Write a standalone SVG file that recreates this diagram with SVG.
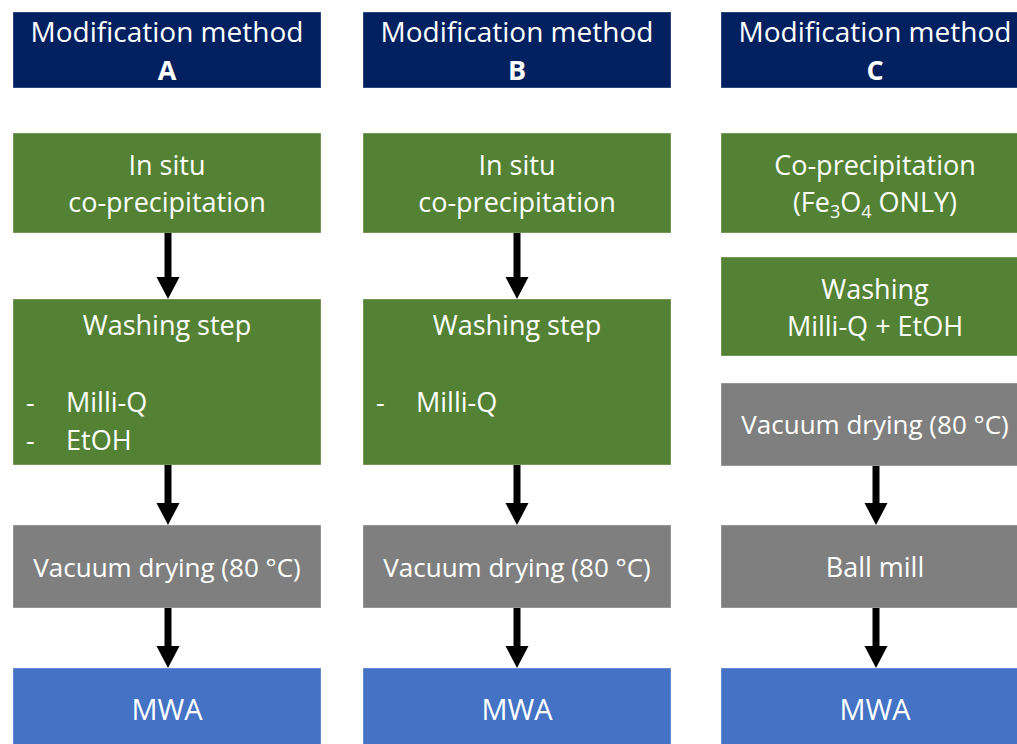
<svg xmlns="http://www.w3.org/2000/svg" width="1017" height="744" viewBox="0 0 1017 744">
  <defs>
    <style>
      .hdr { fill: #002060; }
      .grn { fill: #548235; }
      .gry { fill: #7F7F7F; }
      .blu { fill: #4472C4; }
      .box { stroke: #FFFFFF; stroke-opacity: 0.35; stroke-width: 1; }
      text { font-family: "Open Sans", "Liberation Sans", sans-serif; font-size: 27px; fill: #FFFFFF; }
      .c { text-anchor: middle; }
      .b { font-weight: bold; }
      .t { font-size: 28px; }
      .s { font-size: 26px; }
      .m { font-size: 29px; }
      .stem { stroke: #000000; stroke-width: 7; fill: none; }
      .head { fill: #000000; }
    </style>
  </defs>

  <rect width="1017" height="744" fill="#FFFFFF"/>

  <!-- Column A -->
  <g id="headerA">
    <rect class="hdr box" x="13" y="12" width="308" height="76"/>
    <text class="c t" x="167" y="42">Modification method</text>
    <text class="c b" x="167" y="80">A</text>
  </g>
  <g id="synthA">
    <rect class="grn box" x="13" y="133" width="308" height="100"/>
    <text class="c" x="167" y="175">In situ</text>
    <text class="c" x="167" y="212">co-precipitation</text>
  </g>
  <g id="washA">
    <rect class="grn box" x="13" y="299" width="308" height="166"/>
    <text class="c" x="167" y="335">Washing step</text>
    <text x="26" y="412">-</text>
    <text x="66" y="412">Milli-Q</text>
    <text x="26" y="450">-</text>
    <text x="66" y="450">EtOH</text>
  </g>
  <g id="dryA">
    <rect class="gry box" x="13" y="525" width="308" height="83"/>
    <text class="c s" x="167" y="577">Vacuum drying (80 °C)</text>
  </g>
  <g id="mwaA">
    <rect class="blu box" x="13" y="668" width="308" height="80"/>
    <text class="c m" x="167" y="720">MWA</text>
  </g>

  <!-- Column B -->
  <g id="headerB">
    <rect class="hdr box" x="363" y="12" width="308" height="76"/>
    <text class="c t" x="517" y="42">Modification method</text>
    <text class="c b" x="517" y="80">B</text>
  </g>
  <g id="synthB">
    <rect class="grn box" x="363" y="133" width="308" height="100"/>
    <text class="c" x="517" y="175">In situ</text>
    <text class="c" x="517" y="212">co-precipitation</text>
  </g>
  <g id="washB">
    <rect class="grn box" x="363" y="299" width="308" height="166"/>
    <text class="c" x="517" y="335">Washing step</text>
    <text x="376" y="412">-</text>
    <text x="416" y="412">Milli-Q</text>
  </g>
  <g id="dryB">
    <rect class="gry box" x="363" y="525" width="308" height="83"/>
    <text class="c s" x="517" y="577">Vacuum drying (80 °C)</text>
  </g>
  <g id="mwaB">
    <rect class="blu box" x="363" y="668" width="308" height="80"/>
    <text class="c m" x="517" y="720">MWA</text>
  </g>

  <!-- Column C -->
  <g id="headerC">
    <rect class="hdr box" x="721" y="12" width="308" height="76"/>
    <text class="c t" x="875" y="42">Modification method</text>
    <text class="c b" x="875" y="80">C</text>
  </g>
  <g id="synthC">
    <rect class="grn box" x="721" y="133" width="308" height="100"/>
    <text class="c" x="875" y="175">Co-precipitation</text>
    <text class="c" x="875" y="212">(Fe<tspan font-size="18" dy="6">3</tspan><tspan dy="-6">O</tspan><tspan font-size="18" dy="6">4</tspan><tspan dy="-6"> ONLY)</tspan></text>
  </g>
  <g id="washC">
    <rect class="grn box" x="721" y="257" width="308" height="99"/>
    <text class="c" x="875" y="299">Washing</text>
    <text class="c" x="875" y="336">Milli-Q + EtOH</text>
  </g>
  <g id="dryC">
    <rect class="gry box" x="721" y="383" width="308" height="83"/>
    <text class="c s" x="875" y="434">Vacuum drying (80 °C)</text>
  </g>
  <g id="millC">
    <rect class="gry box" x="721" y="525" width="308" height="83"/>
    <text class="c" x="875" y="577">Ball mill</text>
  </g>
  <g id="mwaC">
    <rect class="blu box" x="721" y="668" width="308" height="80"/>
    <text class="c m" x="875" y="720">MWA</text>
  </g>

  <!-- Connectors: thick stems with solid triangular heads -->
  <g id="connectors">
    <line class="stem" x1="168" y1="233" x2="168" y2="278"/>
    <polygon class="head" points="156.5,277 179.5,277 168,299"/>
    <line class="stem" x1="168" y1="465" x2="168" y2="504"/>
    <polygon class="head" points="156.5,503 179.5,503 168,525"/>
    <line class="stem" x1="168" y1="608" x2="168" y2="647"/>
    <polygon class="head" points="156.5,646 179.5,646 168,668"/>

    <line class="stem" x1="517" y1="233" x2="517" y2="278"/>
    <polygon class="head" points="505.5,277 528.5,277 517,299"/>
    <line class="stem" x1="517" y1="465" x2="517" y2="504"/>
    <polygon class="head" points="505.5,503 528.5,503 517,525"/>
    <line class="stem" x1="517" y1="608" x2="517" y2="647"/>
    <polygon class="head" points="505.5,646 528.5,646 517,668"/>

    <line class="stem" x1="876" y1="466" x2="876" y2="504"/>
    <polygon class="head" points="864.5,503 887.5,503 876,525"/>
    <line class="stem" x1="876" y1="608" x2="876" y2="647"/>
    <polygon class="head" points="864.5,646 887.5,646 876,668"/>
  </g>
</svg>
